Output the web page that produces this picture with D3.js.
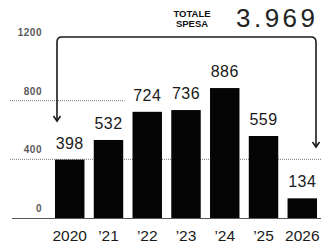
<!DOCTYPE html>
<html>
<head>
<meta charset="utf-8">
<script src="https://cdn.jsdelivr.net/npm/d3@7"></script>
<style>
body { margin: 0; background: #fff; }
svg { display: block; }
</style>
</head>
<body>
<svg id="canvas" width="321" height="248"></svg>
<script>
var years = ["2020", "\u201921", "\u201922", "\u201923", "\u201924", "\u201925", "2026"];
var spesa = [398, 532, 724, 736, 886, 559, 134];
var ticks = [0, 400, 800, 1200];
var totale = "3.969";

var width = 321;
var height = 248;

var svg = d3.select("#canvas");

var x = d3.scaleBand()
.domain(years)
.range([55, 317])
.paddingInner(0.24);

var y = d3.scaleLinear()
.domain([0, 1200])
.range([218, 42]);

// tick labels
svg.selectAll(".tick-label")
.data(ticks)
.enter().append("text")
.attr("class", "tick-label")
.attr("x", 42)
.attr("y", function(d) { return y(d) - 6; })
.attr("text-anchor", "end")
.attr("font-family", "Liberation Sans, Arial, sans-serif")
.attr("font-size", 10)
.attr("font-weight", "bold")
.attr("letter-spacing", 0.5)
.attr("fill", "#5a5a5a")
.text(function(d) { return d; });

// dotted gridlines (800 stops before the labels)
svg.append("line")
.attr("x1", 10).attr("x2", width)
.attr("y1", y(400)).attr("y2", y(400))
.attr("stroke", "#777")
.attr("stroke-dasharray", "1,1");

svg.append("line")
.attr("x1", 10).attr("x2", x(years[2]) - 8)
.attr("y1", y(800)).attr("y2", y(800))
.attr("stroke", "#777")
.attr("stroke-dasharray", "1,1");

// bars
svg.selectAll(".bar")
.data(spesa)
.enter().append("rect")
.attr("class", "bar")
.attr("x", function(d, i) { return x(years[i]); })
.attr("y", function(d) { return y(d); })
.attr("width", x.bandwidth())
.attr("height", function(d) { return y(0) - y(d); })
.attr("fill", "#050505");

// baseline
svg.append("line")
.attr("x1", 12).attr("x2", width)
.attr("y1", y(0) + 0.5).attr("y2", y(0) + 0.5)
.attr("stroke", "#555")
.attr("stroke-width", 1);

// values
svg.selectAll(".val")
.data(spesa)
.enter().append("text")
.attr("class", "val")
.attr("x", function(d, i) { return x(years[i]) + x.bandwidth() / 2; })
.attr("y", function(d) { return y(d) - 11; })
.attr("text-anchor", "middle")
.attr("font-family", "Liberation Sans, Arial, sans-serif")
.attr("font-size", 16)
.attr("letter-spacing", 0.4)
.attr("fill", "#1a1a1a")
.text(function(d) { return d; });

// x labels
svg.selectAll(".xlab")
.data(years)
.enter().append("text")
.attr("class", "xlab")
.attr("x", function(d) { return x(d) + x.bandwidth() / 2; })
.attr("y", 241)
.attr("text-anchor", "middle")
.attr("font-family", "Liberation Sans, Arial, sans-serif")
.attr("font-size", 15.5)
.attr("fill", "#1a1a1a")
.text(function(d) { return d; });

// bracket with arrows
var lx = 57, rx = 316, topY = 37, r = 5;
var lEnd = 121, rEnd = 147;
svg.append("path")
.attr("d", "M" + lx + "," + lEnd + "V" + (topY + r) + "Q" + lx + "," + topY + " " + (lx + r) + "," + topY +
  "H" + (rx - r) + "Q" + rx + "," + topY + " " + rx + "," + (topY + r) + "V" + rEnd)
.attr("fill", "none")
.attr("stroke", "#1a1a1a")
.attr("stroke-width", 1.6);

[[lx, lEnd], [rx, rEnd]].forEach(function(p) {
  svg.append("path")
  .attr("d", "M" + (p[0] - 3.5) + "," + (p[1] - 5) + "L" + p[0] + "," + p[1] + "L" + (p[0] + 3.5) + "," + (p[1] - 5))
  .attr("fill", "none")
  .attr("stroke", "#1a1a1a")
  .attr("stroke-width", 1.6);
});

// title
var title = svg.append("text")
.attr("text-anchor", "middle")
.attr("font-family", "Liberation Sans, Arial, sans-serif")
.attr("font-size", 9.5)
.attr("font-weight", "bold")
.attr("fill", "#111");
title.append("tspan").attr("x", 192).attr("y", 17).text("TOTALE");
title.append("tspan").attr("x", 192).attr("y", 27).text("SPESA");

svg.append("text")
.attr("x", 236)
.attr("y", 27)
.attr("font-family", "Liberation Sans, Arial, sans-serif")
.attr("font-size", 26)
.attr("fill", "#222")
.attr("textLength", 79)
.attr("lengthAdjust", "spacing")
.text(totale);
</script>
</body>
</html>
